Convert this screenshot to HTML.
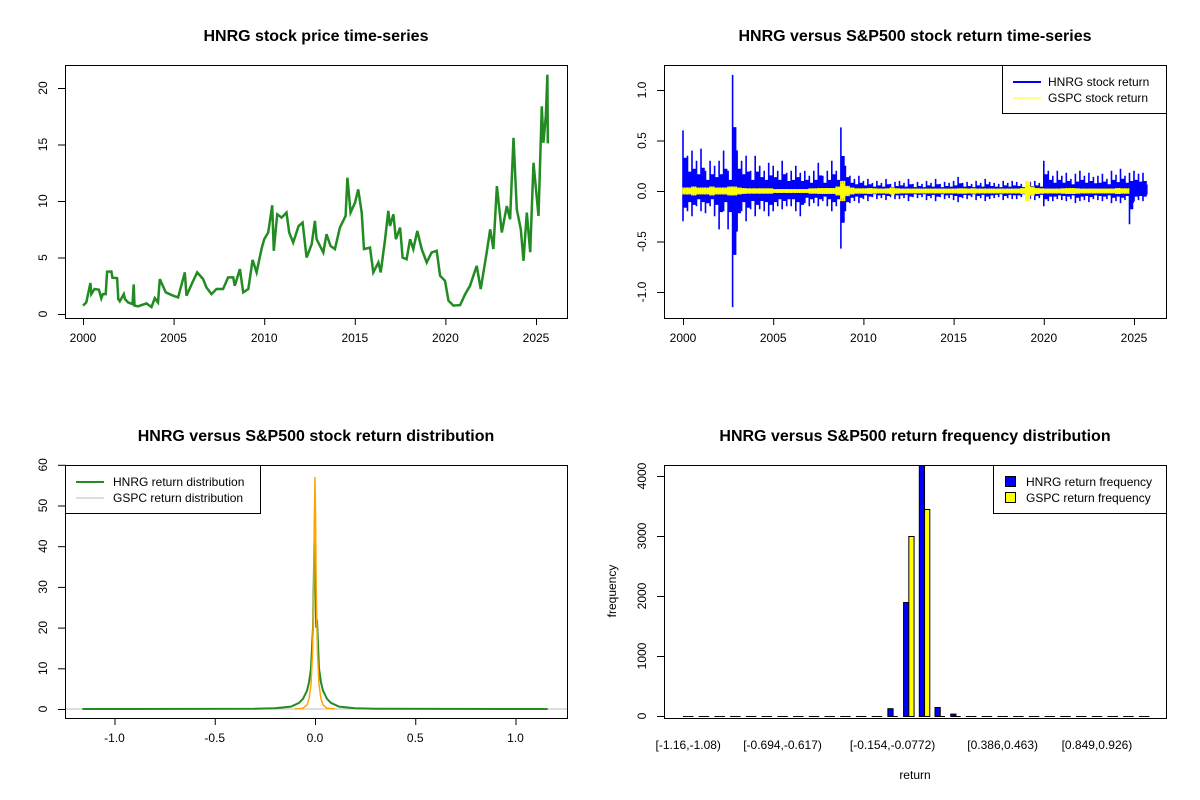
<!DOCTYPE html>
<html><head><meta charset="utf-8"><style>
html,body{margin:0;padding:0;background:#fff;}
svg{display:block;font-family:"Liberation Sans",Arial,sans-serif;}
</style></head><body>
<svg id="svg" width="1200" height="800" xmlns="http://www.w3.org/2000/svg">
<rect width="1200" height="800" fill="#fff"/>
</svg>
<script>
// ---- data: price ----
const priceYears=[2000.0,2000.18,2000.41,2000.46,2000.64,2000.88,2001.01,2001.10,2001.25,2001.33,2001.57,2001.62,2001.88,2001.95,2002.03,2002.25,2002.32,2002.49,2002.73,2002.80,2002.84,2003.04,2003.50,2003.78,2003.96,2004.14,2004.24,2004.57,2004.97,2005.25,2005.62,2005.71,2006.04,2006.30,2006.63,2006.81,2007.09,2007.37,2007.73,2008.01,2008.29,2008.38,2008.66,2008.84,2009.12,2009.36,2009.58,2009.85,2010.00,2010.22,2010.44,2010.53,2010.72,2010.96,2011.23,2011.38,2011.60,2011.90,2012.12,2012.34,2012.62,2012.80,2012.89,2013.26,2013.44,2013.66,2013.90,2014.18,2014.49,2014.59,2014.77,2015.01,2015.19,2015.38,2015.51,2015.84,2016.02,2016.30,2016.43,2016.67,2016.85,2016.94,2017.13,2017.27,2017.50,2017.64,2017.86,2018.05,2018.23,2018.45,2018.69,2018.97,2019.24,2019.52,2019.71,2019.98,2020.17,2020.44,2020.81,2021.09,2021.36,2021.73,2021.95,2022.28,2022.47,2022.65,2022.84,2023.11,2023.39,2023.57,2023.76,2023.94,2024.16,2024.31,2024.49,2024.68,2024.86,2025.14,2025.32,2025.41,2025.54,2025.63,2025.65];
const priceValues=[0.74,1.03,2.74,1.76,2.21,2.15,1.38,1.76,1.76,3.74,3.76,3.21,3.18,1.32,1.12,1.76,1.32,1.03,0.88,2.62,0.74,0.68,0.94,0.62,1.41,1.03,3.09,1.91,1.62,1.47,3.68,1.62,2.79,3.68,3.09,2.35,1.76,2.21,2.21,3.24,3.24,2.50,3.97,1.91,2.21,4.79,3.68,5.74,6.62,7.21,9.62,5.59,8.82,8.53,8.97,7.21,6.32,7.79,8.09,5.00,6.18,8.24,6.62,5.44,7.06,6.03,5.74,7.65,8.68,12.06,8.97,9.85,11.03,8.97,5.74,5.88,3.68,4.56,3.68,6.62,9.12,7.79,8.82,6.62,7.65,5.00,4.85,6.62,5.74,7.35,5.74,4.56,5.44,5.59,3.38,2.94,1.18,0.74,0.79,1.76,2.50,4.26,2.21,5.44,7.50,5.74,11.32,7.21,9.56,8.38,15.59,9.26,7.50,4.71,8.97,5.47,13.38,8.68,18.38,15.15,17.50,21.18,15.1];
// ---- data: returns (quarterly high/low) ----
const retStartYear=2000;
const hnrgHi=[0.60,0.35,0.40,0.30, 0.42,0.20,0.30,0.25, 0.30,0.40,0.20,1.15, 0.40,0.30,0.35,0.20, 0.35,0.25,0.20,0.28, 0.25,0.20,0.30,0.18, 0.20,0.25,0.18,0.20, 0.15,0.20,0.28,0.15, 0.20,0.30,0.20,0.63, 0.25,0.15,0.12,0.15, 0.10,0.12,0.08,0.10, 0.08,0.12,0.07,0.09, 0.10,0.08,0.12,0.07, 0.09,0.07,0.10,0.08, 0.12,0.07,0.09,0.08, 0.10,0.14,0.08,0.09, 0.07,0.10,0.08,0.12, 0.09,0.08,0.07,0.10, 0.08,0.10,0.09,0.07, 0.08,0.09,0.10,0.08, 0.30,0.20,0.15,0.20, 0.15,0.18,0.12,0.17, 0.20,0.15,0.18,0.14, 0.15,0.17,0.12,0.20, 0.16,0.22,0.15,0.18, 0.20,0.17,0.18];
const hnrgLo=[-0.30,-0.20,-0.25,-0.15, -0.20,-0.22,-0.15,-0.25, -0.38,-0.20,-0.38,-1.15, -0.40,-0.20,-0.30,-0.18, -0.25,-0.18,-0.20,-0.25, -0.20,-0.15,-0.18,-0.15, -0.15,-0.20,-0.25,-0.12, -0.15,-0.12,-0.15,-0.10, -0.15,-0.20,-0.15,-0.57, -0.20,-0.12,-0.10,-0.12, -0.08,-0.10,-0.06,-0.08, -0.07,-0.09,-0.06,-0.08, -0.08,-0.07,-0.10,-0.06, -0.07,-0.06,-0.09,-0.07, -0.10,-0.06,-0.08,-0.07, -0.09,-0.11,-0.07,-0.08, -0.06,-0.09,-0.07,-0.10, -0.08,-0.07,-0.06,-0.09, -0.07,-0.08,-0.08,-0.06, -0.07,-0.08,-0.09,-0.07, -0.15,-0.10,-0.10,-0.08, -0.09,-0.10,-0.08,-0.12, -0.10,-0.09,-0.11,-0.08, -0.09,-0.10,-0.08,-0.12, -0.10,-0.12,-0.09,-0.33, -0.10,-0.09,-0.10];
const gspcAmp=[0.035,0.035,0.045,0.035, 0.035,0.035,0.045,0.035, 0.035,0.035,0.045,0.045, 0.035,0.03,0.028,0.028, 0.028,0.028,0.028,0.028, 0.02,0.02,0.02,0.02, 0.02,0.02,0.02,0.02, 0.028,0.028,0.03,0.03, 0.03,0.03,0.045,0.1, 0.05,0.035,0.028,0.028, 0.028,0.03,0.028,0.025, 0.025,0.028,0.035,0.028, 0.025,0.025,0.025,0.025, 0.025,0.025,0.025,0.025, 0.025,0.025,0.025,0.025, 0.025,0.028,0.028,0.025, 0.028,0.025,0.025,0.025, 0.025,0.025,0.025,0.025, 0.025,0.025,0.025,0.03, 0.1,0.045,0.03,0.028, 0.025,0.025,0.025,0.025, 0.028,0.03,0.03,0.028, 0.025,0.025,0.025,0.025, 0.025,0.025,0.025,0.025, 0.03,0.028,0.028];
// ---- data: density ----
const hnrgDensX=[-1.16,-0.3,-0.2,-0.12,-0.08,-0.06,-0.04,-0.03,-0.02,-0.01,-0.005,0,0.003,0.006,0.01,0.02,0.03,0.04,0.06,0.08,0.12,0.2,0.3,1.16];
const hnrgDensY=[0,0.05,0.2,0.6,1.5,2.5,4.5,6.5,10,20,35,50,30,20,22,10,6.5,4.5,2.5,1.5,0.6,0.2,0.05,0];
const gspcDensX=[-0.1,-0.06,-0.04,-0.03,-0.02,-0.012,-0.006,-0.002,0,0.002,0.006,0.012,0.02,0.03,0.04,0.06,0.1];
const gspcDensY=[0,0.2,1,2.5,6,14,30,50,57,50,30,14,6,2.5,1,0.2,0];
// ---- data: histogram ----
const binLabels=["[-1.16,-1.08)","","","","","","[-0.694,-0.617)","","","","","","","[-0.154,-0.0772)","","","","","","","[0.386,0.463)","","","","","","[0.849,0.926)","","",""];
const hnrgFreq=[1,0,0,0,0,0,0,0,0,0,4,5,15,130,1900,4250,150,40,15,8,5,1,0,0,0,0,0,0,0,1];
const gspcFreq=[0,0,0,0,0,0,0,0,0,0,0,0,0,15,3000,3450,10,0,0,0,0,0,0,0,0,0,0,0,0,0];

const NS="http://www.w3.org/2000/svg";
const svg=document.getElementById('svg');
function mk(tag,attrs,parent){const e=document.createElementNS(NS,tag);for(const k in attrs)e.setAttribute(k,attrs[k]);(parent||svg).appendChild(e);return e;}
function txt(s,x,y,size,opts,parent){const t=mk('text',Object.assign({x:x,y:y,'font-size':size,'text-anchor':'middle',fill:'#000'},opts||{}),parent);t.textContent=s;return t;}
function group(name){const g=mk('g',{});return g;}
function box(g,x0,y0,x1,y1){const r=mk('rect',{x:x0+.5,y:y0+.5,width:x1-x0,height:y1-y0,fill:'none',stroke:'#000','stroke-width':1},g);}
function xAxis(g,ticks,labels,sx,y){const a=group('x-axis');g.appendChild(a);mk('line',{x1:sx(ticks[0]),x2:sx(ticks[ticks.length-1]),y1:y+.5,y2:y+.5,stroke:'#000'},a);ticks.forEach((t,i)=>{mk('line',{x1:sx(t)+.5,x2:sx(t)+.5,y1:y,y2:y+7,stroke:'#000'},a);const l=txt(labels[i],sx(t),y+24,12,{},a);});}
function yAxis(g,ticks,labels,sy,x){const a=group('y-axis');g.appendChild(a);mk('line',{x1:x+.5,x2:x+.5,y1:sy(ticks[0]),y2:sy(ticks[ticks.length-1]),stroke:'#000'},a);ticks.forEach((t,i)=>{mk('line',{x1:x-7,x2:x,y1:sy(t)+.5,y2:sy(t)+.5,stroke:'#000'},a);const yy=sy(t),xx=x-18;const l=txt(labels[i],xx,yy,12,{transform:`rotate(-90 ${xx} ${yy})`},a);});}
function title(g,s,x,y){const t=txt(s,x,y,16,{'font-weight':'bold'},g);}
function pathFrom(xs,ys,sx,sy){return xs.map((v,i)=>(i?'L':'M')+sx(v).toFixed(1)+' '+sy(ys[i]).toFixed(1)).join('');}

// ---- Panel 1: price ----
{const g=group('price-panel');const sx=v=>83+(v-2000)*18.12, sy=v=>314-v*11.3;
title(g,'HNRG stock price time-series',316,41);
const p=mk('path',{d:pathFrom(priceYears,priceValues,sx,sy),fill:'none',stroke:'#228B22','stroke-width':2.5,'stroke-linejoin':'miter'},g);

box(g,65,65,567,318);
xAxis(g,[2000,2005,2010,2015,2020,2025],['2000','2005','2010','2015','2020','2025'],sx,318);
yAxis(g,[0,5,10,15,20],['0','5','10','15','20'],sy,65);}

// ---- Panel 2: returns ----
{const g=group('returns-panel');const sx=v=>683+(v-2000)*18.04, sy=v=>191-v*101;
title(g,'HNRG versus S&P500 stock return time-series',915,41);
let d='';hnrgHi.forEach((h,i)=>{const yr=retStartYear+i*0.25;for(let k=0;k<6;k++){const x=sx(yr+k*0.0417);const f=k===0?1:(k%2?0.35:0.55);d+=`M${x.toFixed(1)} ${sy(hnrgLo[i]*f).toFixed(1)}L${x.toFixed(1)} ${sy(h*f).toFixed(1)}`;}});
const p=mk('path',{d:d,fill:'none',stroke:'#0000FF','stroke-width':1.6},g);
let d2='';gspcAmp.forEach((a,i)=>{const yr=retStartYear+i*0.25;for(let k=0;k<5;k++){const x=sx(yr+k*0.05);const f=k%2?0.7:1;d2+=`M${x.toFixed(1)} ${sy(-a*f).toFixed(1)}L${x.toFixed(1)} ${sy(a*f).toFixed(1)}`;}});
const p2=mk('path',{d:d2,fill:'none',stroke:'#FFFF00','stroke-width':1.6},g);
box(g,664,65,1166,318);
xAxis(g,[2000,2005,2010,2015,2020,2025],['2000','2005','2010','2015','2020','2025'],sx,318);
yAxis(g,[-1,-0.5,0,0.5,1],['-1.0','-0.5','0.0','0.5','1.0'],sy,664);
const lg=group('legend');g.appendChild(lg);mk('rect',{x:1002.5,y:65.5,width:164,height:48,fill:'#fff',stroke:'#000'},lg);
mk('line',{x1:1013,x2:1041,y1:82,y2:82,stroke:'#0000FF','stroke-width':2},lg);txt('HNRG stock return',1048,86,12,{'text-anchor':'start'},lg);
mk('line',{x1:1013,x2:1041,y1:98,y2:98,stroke:'#FFFF00','stroke-width':1},lg);txt('GSPC stock return',1048,102,12,{'text-anchor':'start'},lg);}

// ---- Panel 3: density ----
{const g=group('density-panel');const sx=v=>315+v*200.5, sy=v=>709-v*4.07;
title(g,'HNRG versus S&P500 stock return distribution',316,441);
mk('line',{x1:65,x2:567,y1:709,y2:709,stroke:'#BEBEBE'},g);
const p=mk('path',{d:pathFrom(hnrgDensX,hnrgDensY,sx,sy),fill:'none',stroke:'#228B22','stroke-width':2},g);
const p2=mk('path',{d:pathFrom(gspcDensX,gspcDensY,sx,sy),fill:'none',stroke:'#FFA500','stroke-width':1.5},g);
box(g,65,465,567,718);
xAxis(g,[-1,-0.5,0,0.5,1],['-1.0','-0.5','0.0','0.5','1.0'],sx,718);
yAxis(g,[0,10,20,30,40,50,60],['0','10','20','30','40','50','60'],sy,65);
const lg=group('legend');g.appendChild(lg);mk('rect',{x:65.5,y:465.5,width:195,height:48,fill:'#fff',stroke:'#000'},lg);
mk('line',{x1:76,x2:104,y1:482,y2:482,stroke:'#228B22','stroke-width':2},lg);txt('HNRG return distribution',113,486,12,{'text-anchor':'start'},lg);
mk('line',{x1:76,x2:104,y1:498,y2:498,stroke:'#BEBEBE','stroke-width':1},lg);txt('GSPC return distribution',113,502,12,{'text-anchor':'start'},lg);}

// ---- Panel 4: histogram ----
{const g=group('histogram-panel');const u=5.24;const gx=i=>683+i*3*u, sy=v=>716-v*0.06;
title(g,'HNRG versus S&P500 return frequency distribution',915,441);
const clip=mk('clipPath',{id:'c4'},g);mk('rect',{x:664,y:465,width:502,height:253},clip);
const bars=mk('g',{'clip-path':'url(#c4)'},g);
function bar(x,v,fill,name){const top=sy(v);if(716-top<1){const l=mk('line',{x1:x,x2:x+u,y1:716.5,y2:716.5,stroke:'#000','stroke-width':1},bars);}else{const r=mk('rect',{x:x+.5,y:top+.5,width:u,height:716-top,fill:fill,stroke:'#000','stroke-width':1},bars);}}
hnrgFreq.forEach((v,i)=>bar(gx(i),v,'#0000FF','bar-hnrg'));
gspcFreq.forEach((v,i)=>bar(gx(i)+u,v,'#FFFF00','bar-gspc'));
box(g,664,465,1166,718);
binLabels.forEach((s,i)=>{if(s){const l=txt(s,gx(i)+u,749,12,{},g);}});
yAxis(g,[0,1000,2000,3000,4000],['0','1000','2000','3000','4000'],sy,664);
const xl=txt('return',915,779,12,{},g);
const yl=txt('frequency',616,591,12,{transform:'rotate(-90 616 591)'},g);
const lg=group('legend');g.appendChild(lg);mk('rect',{x:993.5,y:465.5,width:173,height:48,fill:'#fff',stroke:'#000'},lg);
mk('rect',{x:1005.5,y:476.5,width:10,height:10,fill:'#0000FF',stroke:'#000'},lg);txt('HNRG return frequency',1026,486,12,{'text-anchor':'start'},lg);
mk('rect',{x:1005.5,y:492.5,width:10,height:10,fill:'#FFFF00',stroke:'#000'},lg);txt('GSPC return frequency',1026,502,12,{'text-anchor':'start'},lg);}
</script>
</body></html>
